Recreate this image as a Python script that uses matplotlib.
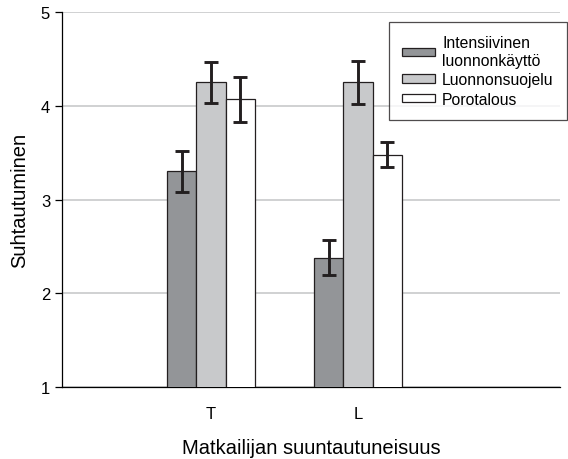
import numpy as np
import matplotlib
matplotlib.use('Agg')
import matplotlib.pyplot as plt

plt.rcParams['font.family'] = ['Liberation Sans', 'DejaVu Sans']

# Dati
categories = ['T', 'L']
series_names = ['Intensiivinen\nluonnonkäyttö', 'Luonnonsuojelu', 'Porotalous']
values = [
    [3.30, 2.38],   # Intensiivinen luonnonkäyttö
    [4.25, 4.25],   # Luonnonsuojelu
    [4.07, 3.48],   # Porotalous
]
errors = [
    [0.22, 0.19],
    [0.22, 0.23],
    [0.24, 0.13],
]
colors = ['#939598', '#c8c9cb', '#ffffff']

fig = plt.figure(figsize=(5.68, 4.60), dpi=100)
ax = fig.add_axes([0.109, 0.1565, 0.877, 0.815])

x = np.arange(len(categories))
width = 0.2
for i in range(3):
    ax.bar(x + (i - 1) * width, values[i], width, bottom=0,
           color=colors[i], edgecolor='#231f20', linewidth=0.9,
           label=series_names[i], zorder=3)
    ax.errorbar(x + (i - 1) * width, values[i], yerr=errors[i], fmt='none',
                ecolor='#231f20', elinewidth=2.1, capsize=4.7, capthick=2.1, zorder=4)

ax.set_ylim(1, 5)
ax.set_xlim(-1.014, 2.374)
ax.set_yticks([1, 2, 3, 4, 5])
ax.set_xticks(x)
ax.set_xticklabels(categories)
ax.tick_params(axis='y', labelsize=12, direction='out', length=5, width=0.9)
ax.tick_params(axis='x', labelsize=12, length=0, pad=14)
ax.yaxis.grid(True, color='#c8c9cb', linewidth=1.2, zorder=0)
ax.set_axisbelow(True)
for s in ['top', 'right']:
    ax.spines[s].set_visible(False)
ax.spines['left'].set_linewidth(0.9)
ax.spines['bottom'].set_linewidth(0.9)

ax.set_ylabel('Suhtautuminen', fontsize=14.5, labelpad=8)
ax.set_xlabel('Matkailijan suuntautuneisuus', fontsize=14.5, labelpad=12)

leg = ax.legend(loc='upper right', bbox_to_anchor=(0.998, 0.95),
                bbox_transform=fig.transFigure, borderaxespad=0,
                fontsize=11.3, frameon=True, fancybox=False, edgecolor='#231f20',
                handlelength=2.1, handleheight=0.45, borderpad=0.85,
                labelspacing=0.28, handletextpad=0.45)
leg.get_frame().set_linewidth(0.9)

plt.savefig('out.png', dpi=100)
